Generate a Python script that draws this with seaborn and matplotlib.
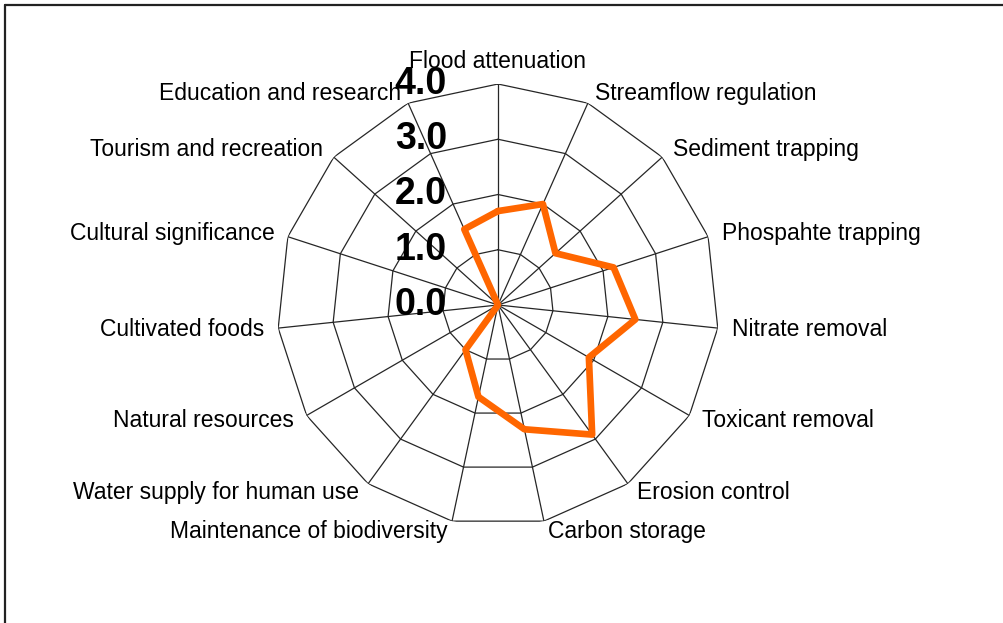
import matplotlib.pyplot as plt
import numpy as np
import pandas as pd
import seaborn as sns

categories = ['Flood attenuation', 'Streamflow regulation', 'Sediment trapping',
              'Phospahte trapping', 'Nitrate removal', 'Toxicant removal',
              'Erosion control', 'Carbon storage', 'Maintenance of biodiversity',
              'Water supply for human use', 'Natural resources', 'Cultivated foods',
              'Cultural significance', 'Tourism and recreation', 'Education and research']
scores = [1.7, 2.0, 1.4, 2.2, 2.5, 1.9, 2.9, 2.3, 1.7, 1.0, 0.0, 0.0, 0.0, 0.0, 1.5]
ring_levels = [1, 2, 3, 4]
ring_labels = ['0.0', '1.0', '2.0', '3.0', '4.0']

sns.set_style("white")
plt.rcParams['font.family'] = ['Liberation Sans', 'DejaVu Sans']
plt.rcParams['text.color'] = 'black'

n = len(categories)
theta = np.arange(n) * 2 * np.pi / n
theta_closed = np.append(theta, 2 * np.pi)

fig = plt.figure(figsize=(10.04, 6.23), dpi=100)
ax = fig.add_axes([0.2759, 0.1557, 0.4402, 0.7095], projection='polar')
ax.set_theta_zero_location('N')
ax.set_theta_direction(-1)
ax.set_ylim(0, 4)
ax.grid(False)
ax.spines['polar'].set_visible(False)
ax.set_xticks([])
ax.set_yticks([])
ax.patch.set_alpha(0)

# polygon grid
for lvl in ring_levels:
    ax.plot(theta_closed, [lvl] * (n + 1), color='#262626', lw=0.9, zorder=1)
for t in theta:
    ax.plot([t, t], [0, ring_levels[-1]], color='#262626', lw=0.9, zorder=1)

# data line
df = pd.DataFrame({'theta': theta_closed, 'score': scores + scores[:1]})
sns.lineplot(data=df, x='theta', y='score', sort=False, ax=ax,
             color='#FF6600', linewidth=4.8, zorder=3)
ax.set_xlabel('')
ax.set_ylabel('')

# radial value labels, left of the vertical axis
for i, lab in enumerate(ring_labels):
    ax.annotate(lab, xy=(0, i), xytext=(-51, 0), textcoords='offset pixels',
                ha='right', va='center', fontsize=27, fontweight='bold',
                color='black', zorder=4)

# category labels
for t, lab in zip(theta, categories):
    s, c = np.sin(t), np.cos(t)
    if abs(s) < 1e-6:
        ax.annotate(lab, xy=(t, 4), xytext=(0, 16), textcoords='offset pixels',
                    ha='center', va='baseline', fontsize=16.5, color='black')
        continue
    ha = 'left' if s > 0 else 'right'
    dx = 12 * s + (2 if s > 0 else -2)
    dy = 11 * c
    ax.annotate(lab, xy=(t, 4), xytext=(dx, dy), textcoords='offset pixels',
                ha=ha, va='center', fontsize=16.5, color='black')

# screenshot border
fig.add_artist(plt.Line2D([5 / 1004, 1], [1 - 5 / 623, 1 - 5 / 623],
                          transform=fig.transFigure, color='#222222', lw=1.6))
fig.add_artist(plt.Line2D([5 / 1004, 5 / 1004], [0, 1 - 5 / 623],
                          transform=fig.transFigure, color='#222222', lw=1.6))

fig.savefig('out.png', dpi=100)
